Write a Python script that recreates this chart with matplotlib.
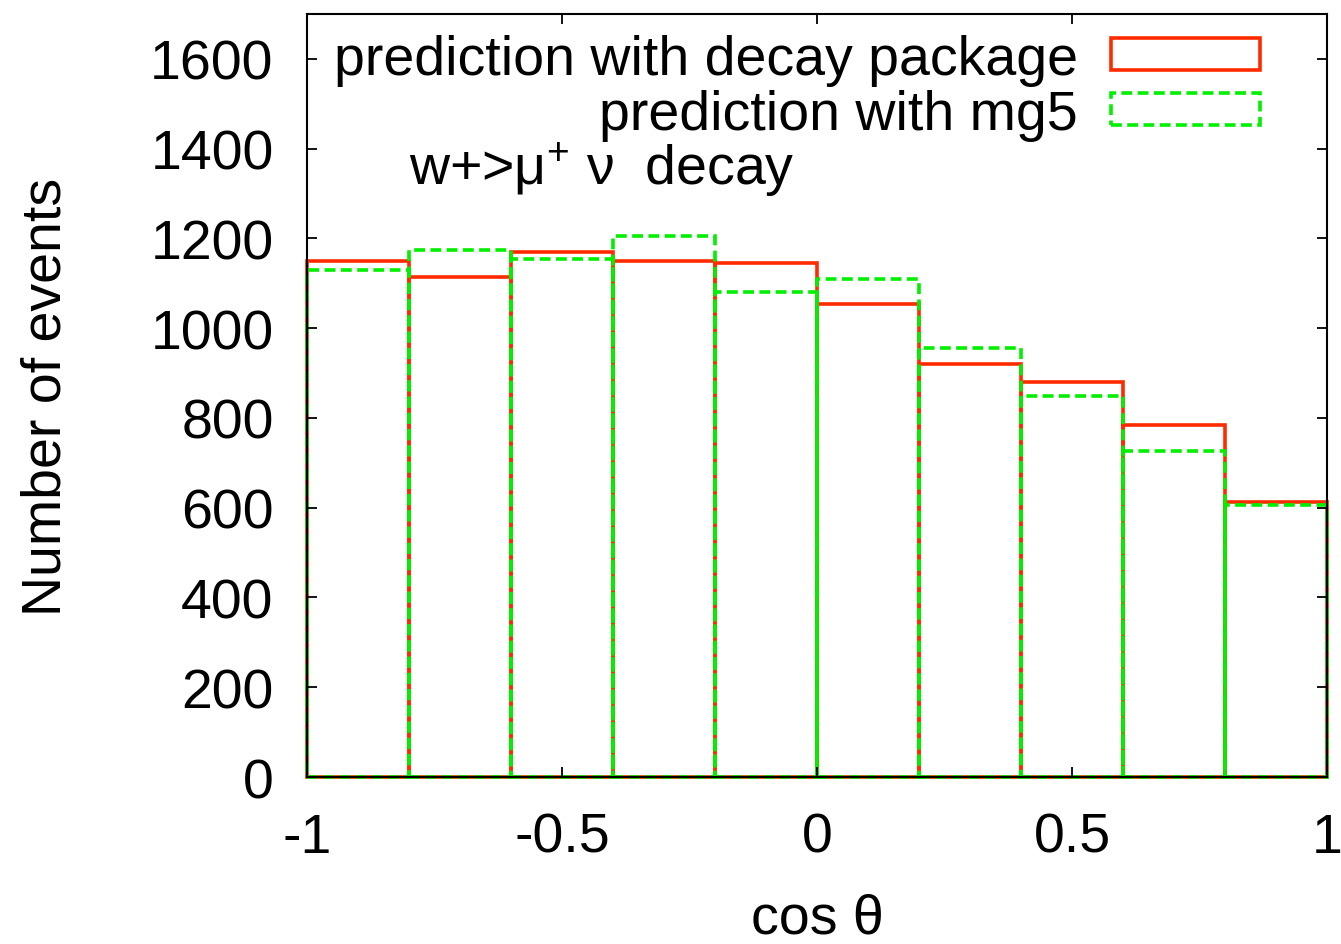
import matplotlib
matplotlib.use("Agg")
import matplotlib.pyplot as plt
from matplotlib.patches import Patch

plt.rcParams['font.family'] = ['Liberation Sans', 'DejaVu Sans']
plt.rcParams['mathtext.default'] = 'regular'

# cos(theta) bins, width 0.2
bin_left = [-1.0, -0.8, -0.6, -0.4, -0.2, 0.0, 0.2, 0.4, 0.6, 0.8]
decay_pkg = [1150, 1115, 1170, 1150, 1145, 1055, 920, 880, 785, 612]
mg5 = [1130, 1175, 1155, 1205, 1080, 1110, 955, 850, 727, 605]

red = '#ff2a00'
green = '#00f000'
lw = 2.6
dash = (0, (3.0, 1.5))

fig = plt.figure(figsize=(13.41, 9.45), dpi=100)
ax = fig.add_axes([0.2289, 0.1767, 0.7607, 0.8074])

ax.bar(bin_left, decay_pkg, width=0.2, align='edge', fill=False,
       edgecolor=red, linewidth=lw, clip_on=False)
ax.bar(bin_left, mg5, width=0.2, align='edge', fill=False,
       edgecolor=green, linewidth=lw, linestyle=dash, clip_on=False)

ax.set_xlim(-1, 1)
ax.set_ylim(0, 1700)
ax.set_xticks([-1, -0.5, 0, 0.5, 1])
ax.set_xticklabels(['-1', '-0.5', '0', '0.5', '1'])
ax.set_yticks(range(0, 1601, 200))
ax.tick_params(direction='in', length=7, width=1.3, top=True, right=True,
               labelsize=40)
ax.tick_params(axis='x', pad=25)
ax.tick_params(axis='y', pad=24)
for s in ax.spines.values():
    s.set_linewidth(1.5)

ax.set_xlabel('cos θ', fontsize=40, labelpad=21)
ax.set_ylabel('Number of events', fontsize=40, labelpad=56)

ax.text(-0.8, 1321, 'w+>μ$^{+}$ ν  decay', fontsize=40, va='baseline')

handles = [Patch(facecolor='none', edgecolor=red, linewidth=lw),
           Patch(facecolor='none', edgecolor=green, linewidth=lw, linestyle=dash)]
ax.legend(handles, ['prediction with decay package', 'prediction with mg5'],
          loc='upper right', bbox_to_anchor=(0.934, 0.974), frameon=False,
          fontsize=40, markerfirst=False, handlelength=2.68, handleheight=0.5,
          handletextpad=0.6, labelspacing=0.05, borderpad=0, borderaxespad=0)

fig.savefig('out.png', dpi=100)
